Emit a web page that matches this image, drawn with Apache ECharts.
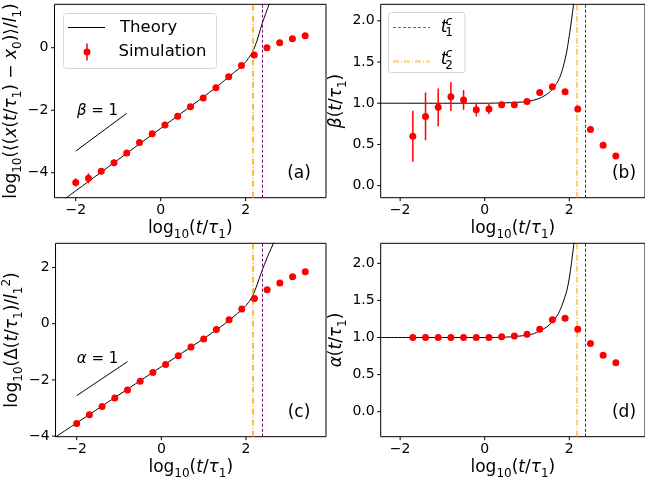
<!DOCTYPE html>
<html><head><meta charset="utf-8">
<script src="https://cdn.jsdelivr.net/npm/echarts@6/dist/echarts.min.js"></script>
<style>html,body{margin:0;padding:0;background:#fff}#c{width:645px;height:481px}</style>
</head><body><div id="c"></div>
<script>
// ---- data ----
const simX = [-2.0,-1.7,-1.4,-1.1,-0.8,-0.5,-0.2,0.1,0.4,0.7,1.0,1.3,1.6,1.9,2.2,2.5,2.8,3.1,3.4];
const simA = [-4.31,-4.18,-3.95,-3.68,-3.37,-3.03,-2.75,-2.47,-2.19,-1.89,-1.61,-1.28,-0.93,-0.57,-0.23,0.0,0.16,0.29,0.38];
const errA = [0.13,0.16,0.07,0.05,0.04,0.03,0.02,0.02,0.02,0.02,0.02,0.02,0.02,0.02,0.02,0.02,0.02,0.02,0.02];
const simC = [-3.55,-3.24,-2.95,-2.64,-2.36,-2.05,-1.74,-1.45,-1.14,-0.83,-0.54,-0.21,0.14,0.52,0.90,1.21,1.45,1.67,1.85];
const simXb = [-1.7,-1.4,-1.1,-0.8,-0.5,-0.2,0.1,0.4,0.7,1.0,1.3,1.6,1.9,2.2,2.5,2.8,3.1];
const simB = [0.60,0.84,0.95,1.08,1.04,0.92,0.93,0.98,0.98,1.02,1.13,1.20,1.14,0.93,0.68,0.49,0.36];
const errB = [0.31,0.29,0.23,0.175,0.12,0.08,0.06,0.04,0.02,0.02,0.02,0.02,0.02,0.02,0.02,0.02,0.02];
const simD = [1.0,1.0,1.0,1.0,1.0,1.0,1.0,1.01,1.02,1.045,1.11,1.24,1.26,1.11,0.92,0.76,0.66];

const thAx = [-2.3,-1.5,-1.0,-0.5,0.0,0.5,1.0,1.3,1.5,1.7,1.83,1.98,2.08,2.16,2.26,2.37,2.46,2.56];
const thAy = [-4.88,-4.08,-3.58,-3.08,-2.58,-2.08,-1.58,-1.27,-1.05,-0.82,-0.68,-0.48,-0.31,-0.14,0.2,0.7,1.05,1.42];
const thBx = [-2.6,0.0,0.5,1.0,1.3,1.5,1.6,1.7,1.78,1.86,1.94,2.0,2.05,2.1,2.13];
const thBy = [1.0,1.0,1.005,1.02,1.06,1.12,1.17,1.24,1.32,1.45,1.63,1.82,2.0,2.2,2.35];
const thCx = [-2.55,-1.5,-0.5,0.5,1.0,1.3,1.5,1.7,1.9,2.0,2.1,2.16,2.26,2.37,2.5,2.66];
const thCy = [-4.08,-3.03,-2.03,-1.03,-0.53,-0.22,0.0,0.24,0.5,0.65,0.84,1.0,1.38,1.85,2.35,2.9];
const thDx = [-2.6,0.0,0.5,1.0,1.15,1.3,1.46,1.6,1.74,1.85,1.94,2.0,2.05,2.12];
const thDy = [1.0,1.0,1.005,1.03,1.05,1.09,1.14,1.21,1.32,1.47,1.63,1.8,2.0,2.32];

const refAx = [-2.0,-0.8], refAy = [-3.31,-2.10];
const refCx = [-2.0,-0.8], refCy = [-2.56,-1.35];

const T1C = 2.38, T2C = 2.17;

const xTicks = [-2,0,2];
const yTicksA = [-4,-2,0];
const yTicksB = [0,0.5,1,1.5,2];
const yTicksC = [-4,-2,0,2];
const yTicksD = [0,0.5,1,1.5,2];

// ---- helpers ----
const FONT = 'DejaVu Sans';
const zip = (a,b) => a.map((v,i)=>[v,b[i]]);
const fmtInt = v => (v<0?'\u2212':'') + Math.abs(v);
const fmtDec = v => (v<0?'\u2212':'') + Math.abs(v).toFixed(1);
const rich = {
  n:{fontFamily:FONT,fontSize:17,color:'#000',lineHeight:24},
  i:{fontFamily:FONT,fontSize:17,fontStyle:'italic',color:'#000',lineHeight:24},
  s:{fontFamily:FONT,fontSize:12,color:'#000',lineHeight:12,verticalAlign:'bottom'},
  p:{fontFamily:FONT,fontSize:12,color:'#000',lineHeight:12,verticalAlign:'top'}
};
const xName = '{n|log}{s|10}{n|(}{i|t}{n|/}{i|τ}{s|1}{n|)}';

const grids = [
  {left:54.5, top:4.3, width:271.5, height:193.4},
  {left:380.7, top:4.3, width:265, height:193.4},
  {left:54.5, top:243.3, width:271.5, height:193.4},
  {left:380.7, top:243.3, width:265, height:193.4}
].map(g=>Object.assign({show:true,borderColor:'#000',borderWidth:1,backgroundColor:'transparent'},g));

function xAx(i,min,max){
  return {type:'value',gridIndex:i,min,max,
    axisLine:{show:false},splitLine:{show:false},axisTick:{show:false},
    axisLabel:{color:'#000',fontFamily:FONT,fontSize:14,margin:6,customValues:xTicks.slice(),formatter:fmtInt},
    name:xName,nameLocation:'middle',nameGap:19,nameTextStyle:{rich}};
}
function yAx(i,min,max,ticks,fmt,name,gap){
  return {type:'value',gridIndex:i,min,max,
    axisLine:{show:false},splitLine:{show:false},axisTick:{show:false},
    axisLabel:{color:'#000',fontFamily:FONT,fontSize:14,margin:6,customValues:ticks.slice(),formatter:fmt},
    name,nameLocation:'middle',nameGap:gap,nameTextStyle:{rich}};
}

// tick marks drawn through the axis scales
function tickSeries(i,xt,yt,xRef,yRef){
  const data = xt.map(v=>[v,yRef,0]).concat(yt.map(v=>[xRef,v,1]));
  return {type:'custom',xAxisIndex:i,yAxisIndex:i,data,silent:true,z:6,clip:false,
    renderItem(params,api){
      const cs = params.coordSys;
      const p = api.coord([api.value(0),api.value(1)]);
      const isY = api.value(2)===1;
      const shape = isY ? {x1:cs.x-3.5,y1:p[1],x2:cs.x,y2:p[1]}
                        : {x1:p[0],y1:cs.y+cs.height,x2:p[0],y2:cs.y+cs.height+3.5};
      return {type:'line',shape,style:{stroke:'#000',lineWidth:1}};
    }};
}

const theoryStyle = {color:'#000',width:1};
function theory(i,xs,ys,pale){
  const s = {type:'line',xAxisIndex:i,yAxisIndex:i,data:zip(xs,ys),showSymbol:false,symbol:'none',
    smooth:0.25,lineStyle:theoryStyle,itemStyle:{color:'#000'},z:3,silent:true};
  s.markLine = {symbol:['none','none'],silent:true,label:{show:false},animation:false,
    data: pale ? [
      {xAxis:T2C,lineStyle:{color:'#ffa500',width:2,opacity:0.55,type:[6,2,1,2]}},
      {xAxis:T1C,lineStyle:{color:'#800080',width:1,type:[3,2]}}
    ] : [
      {xAxis:T2C,lineStyle:{color:'#ffa500',width:1.5,opacity:1,type:[6,2,1,2]}},
      {xAxis:T1C,lineStyle:{color:'#800080',width:1,type:[3,2]}}
    ]};
  return s;
}
function pts(i,xs,ys){
  return {type:'scatter',xAxisIndex:i,yAxisIndex:i,data:zip(xs,ys),symbol:'circle',symbolSize:7,
    itemStyle:{color:'#ff0000',opacity:1},z:5,silent:true};
}
function errs(i,xs,ys,es){
  return {type:'custom',xAxisIndex:i,yAxisIndex:i,data:xs.map((x,k)=>[x,ys[k],es[k]]),
    encode:{x:0,y:1},z:4,silent:true,
    renderItem(params,api){
      const x=api.value(0),y=api.value(1),e=api.value(2);
      const p1=api.coord([x,y-e]),p2=api.coord([x,y+e]);
      return {type:'line',shape:{x1:p1[0],y1:p1[1],x2:p2[0],y2:p2[1]},style:{stroke:'#ff0000',lineWidth:1.5}};
    }};
}
function ref(i,xs,ys){
  return {type:'line',xAxisIndex:i,yAxisIndex:i,data:zip(xs,ys),showSymbol:false,symbol:'none',
    lineStyle:{color:'#000',width:1},z:3,silent:true};
}

const tStyle = (x,y,text,size) => ({type:'text',x,y,silent:true,
  style:{text,fontFamily:FONT,fontSize:size,fill:'#000',align:'center',verticalAlign:'middle'}});
const mathRich = {i:{fontFamily:FONT,fontSize:15,fontStyle:'italic',fill:'#000'},n:{fontFamily:FONT,fontSize:15,fill:'#000'}};

const option = {
  animation:false,
  backgroundColor:'#fff',
  grid:grids,
  xAxis:[xAx(0,-2.5,3.89),xAx(1,-2.46,3.79),xAx(2,-2.5,3.89),xAx(3,-2.46,3.79)],
  yAxis:[
    yAx(0,-4.8,1.39,yTicksA,fmtInt,'{n|log}{s|10}{n|(⟨(}{i|x}{n|(}{i|t}{n|/}{i|τ}{s|1}{n|) − }{i|x}{s|0}{n|)⟩/}{i|l}{s|1}{n|)}',20),
    yAx(1,-0.146,2.2,yTicksB,fmtDec,'{i|β}{n|(}{i|t}{n|/}{i|τ}{s|1}{n|)}',25),
    yAx(2,-4.02,2.86,yTicksC,fmtInt,'{n|log}{s|10}{n|(Δ(}{i|t}{n|/}{i|τ}{s|1}{n|)/}{i|l}{s|1}{p|2}{n|)}',20),
    yAx(3,-0.337,2.27,yTicksD,fmtDec,'{i|α}{n|(}{i|t}{n|/}{i|τ}{s|1}{n|)}',25)
  ],
  series:[
    theory(0,thAx,thAy,false), ref(0,refAx,refAy), errs(0,simX,simA,errA), pts(0,simX,simA),
    theory(1,thBx,thBy,true), errs(1,simXb,simB,errB), pts(1,simXb,simB),
    theory(2,thCx,thCy,false), ref(2,refCx,refCy), pts(2,simX,simC),
    theory(3,thDx,thDy,true), pts(3,simXb,simD),
    tickSeries(0,xTicks,yTicksA,0,-1), tickSeries(1,xTicks,yTicksB,0,1),
    tickSeries(2,xTicks,yTicksC,0,-1), tickSeries(3,xTicks,yTicksD,0,1)
  ],
  graphic:[
    tStyle(299,174,'(a)',17), tStyle(624,174,'(b)',17),
    tStyle(299,412.5,'(c)',17), tStyle(624,412.5,'(d)',17),
    {type:'text',x:97.5,y:111,silent:true,style:{text:'{i|β}{n| = 1}',align:'center',verticalAlign:'middle',rich:mathRich}},
    {type:'text',x:97.5,y:359,silent:true,style:{text:'{i|α}{n| = 1}',align:'center',verticalAlign:'middle',rich:mathRich}},
    // legend (a)
    {type:'rect',shape:{x:63.5,y:13.5,width:153,height:55,r:3},style:{fill:'rgba(255,255,255,0.8)',stroke:'#d5d5d5',lineWidth:1},z:50},
    {type:'line',shape:{x1:68,y1:27.5,x2:105,y2:27.5},style:{stroke:'#000',lineWidth:1},z:51},
    {type:'text',x:120,y:27.5,z:51,style:{text:'Theory',fontFamily:FONT,fontSize:16.5,fill:'#000',align:'left',verticalAlign:'middle'}},
    {type:'line',shape:{x1:87,y1:43.5,x2:87,y2:60.5},style:{stroke:'#ff0000',lineWidth:1.5},z:51},
    {type:'circle',shape:{cx:87,cy:52,r:3.5},style:{fill:'#ff0000'},z:52},
    {type:'text',x:118.5,y:52,z:51,style:{text:'Simulation',fontFamily:FONT,fontSize:16.5,fill:'#000',align:'left',verticalAlign:'middle'}},
    // legend (b)
    {type:'rect',shape:{x:388.5,y:12.5,width:76.5,height:60,r:3},style:{fill:'rgba(255,255,255,0.8)',stroke:'#d5d5d5',lineWidth:1},z:50},
    {type:'line',shape:{x1:393,y1:27.5,x2:430,y2:27.5},style:{stroke:'#a040a0',lineWidth:1,lineDash:[3,2]},z:51},
    {type:'text',x:444,y:28,z:51,style:{text:'t',fontFamily:FONT,fontSize:17,fontStyle:'italic',fill:'#000',align:'center',verticalAlign:'middle'}},
    {type:'text',x:449,y:21.5,z:51,style:{text:'c',fontFamily:FONT,fontSize:12,fontStyle:'italic',fill:'#000',align:'center',verticalAlign:'middle'}},
    {type:'text',x:449,y:33,z:51,style:{text:'1',fontFamily:FONT,fontSize:12,fill:'#000',align:'center',verticalAlign:'middle'}},
    {type:'line',shape:{x1:393,y1:61.5,x2:430,y2:61.5},style:{stroke:'rgba(255,165,0,0.55)',lineWidth:2,lineDash:[6,2,1,2]},z:51},
    {type:'text',x:444,y:60,z:51,style:{text:'t',fontFamily:FONT,fontSize:17,fontStyle:'italic',fill:'#000',align:'center',verticalAlign:'middle'}},
    {type:'text',x:449,y:54,z:51,style:{text:'c',fontFamily:FONT,fontSize:12,fontStyle:'italic',fill:'#000',align:'center',verticalAlign:'middle'}},
    {type:'text',x:449,y:65.5,z:51,style:{text:'2',fontFamily:FONT,fontSize:12,fill:'#000',align:'center',verticalAlign:'middle'}}
  ]
};
const chart = echarts.init(document.getElementById('c'),null,{renderer:'canvas'});
chart.setOption(option);
</script></body></html>
